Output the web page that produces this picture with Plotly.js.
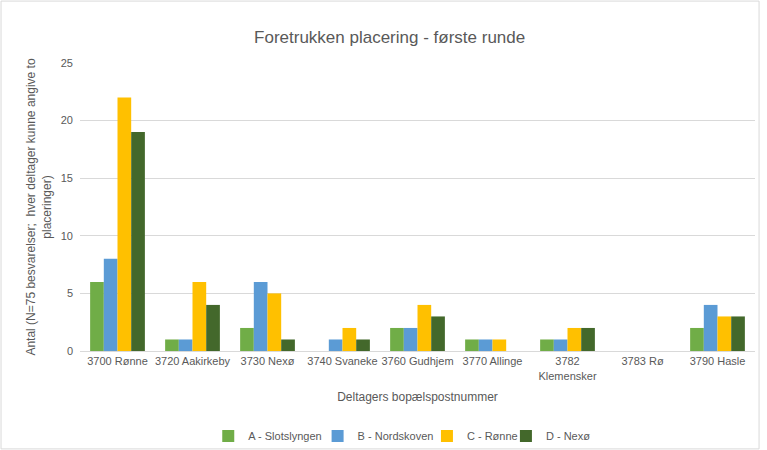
<!DOCTYPE html>
<html>
<head>
<meta charset="utf-8">
<script src="https://cdn.plot.ly/plotly-3.0.1.min.js"></script>
<style>html,body{margin:0;padding:0;background:#fff;}#chart{width:767px;height:450px;}</style>
</head>
<body>
<div id="chart"></div>
<script>
var categories = ["3700 Rønne", "3720 Aakirkeby", "3730 Nexø", "3740 Svaneke", "3760 Gudhjem", "3770 Allinge", "3782<br>Klemensker", "3783 Rø", "3790 Hasle"];
var seriesNames = ["A - Slotslyngen", "B - Nordskoven", "C - Rønne", "D - Nexø"];
var seriesA = [6, 1, 2, 0, 2, 1, 1, 0, 2];
var seriesB = [8, 1, 6, 1, 2, 1, 1, 0, 4];
var seriesC = [22, 6, 5, 2, 4, 1, 2, 0, 3];
var seriesD = [19, 4, 1, 1, 3, 0, 2, 0, 3];
var yTicks = [0, 5, 10, 15, 20, 25];
var colors = ["#70AD47", "#5B9BD5", "#FFC000", "#43682B"];

var legendIds = ["legend", "legend2", "legend3", "legend4"];
var legendX = [0.190, 0.352, 0.514, 0.631];

var allSeries = [seriesA, seriesB, seriesC, seriesD];
var traces = allSeries.map(function (s, i) {
  return {
    type: "bar",
    name: seriesNames[i],
    x: categories,
    y: s,
    legend: legendIds[i],
    marker: { color: colors[i] },
    hoverinfo: "x+y+name"
  };
});

var font = "Liberation Sans, Arial, sans-serif";
var layout = {
  width: 767,
  height: 450,
  margin: { l: 80, r: 12, t: 63, b: 99, autoexpand: false },
  paper_bgcolor: "#ffffff",
  plot_bgcolor: "#ffffff",
  font: { family: font, color: "#595959", size: 11 },
  title: {
    text: "Foretrukken placering - første runde",
    font: { family: font, size: 17, color: "#595959" },
    xref: "container", x: 0.508, xanchor: "center", y: 0.918, yanchor: "middle"
  },
  barmode: "group",
  bargap: 0.27,
  bargroupgap: 0,
  xaxis: {
    type: "category",
    showgrid: false,
    showline: true,
    linecolor: "#D9D9D9",
    linewidth: 1,
    ticks: "",
    tickfont: { family: font, size: 11, color: "#595959" },
    title: { text: "Deltagers bopælspostnummer", font: { family: font, size: 12, color: "#595959" }, standoff: 12 }
  },
  yaxis: {
    range: [0, 25],
    tickvals: yTicks,
    ticktext: yTicks.map(String),
    showgrid: true,
    gridcolor: "#D9D9D9",
    gridwidth: 1,
    zeroline: false,
    showline: false,
    ticks: "",
    ticklabelstandoff: 6,
    tickfont: { family: font, size: 11, color: "#595959" },
    title: { text: "Antal (N=75 besvarelser;  hver deltager kunne angive to<br>placeringer)", font: { family: font, size: 12, color: "#595959" }, standoff: 6 }
  },
  shapes: [{
    type: "rect", xref: "paper", yref: "paper",
    x0: -0.117, x1: 1.006, y0: -0.34, y1: 1.215,
    line: { color: "#D9D9D9", width: 1 }, fillcolor: "rgba(0,0,0,0)", layer: "below"
  }],
  showlegend: true
};

legendIds.forEach(function (id, i) {
  layout[id] = {
    orientation: "h",
    x: legendX[i], xanchor: "left",
    y: -0.295, yanchor: "middle",
    bgcolor: "rgba(0,0,0,0)",
    font: { family: font, size: 11, color: "#595959" },
    itemwidth: 30
  };
});

Plotly.newPlot("chart", traces, layout, { displayModeBar: false, staticPlot: true });
</script>
</body>
</html>
